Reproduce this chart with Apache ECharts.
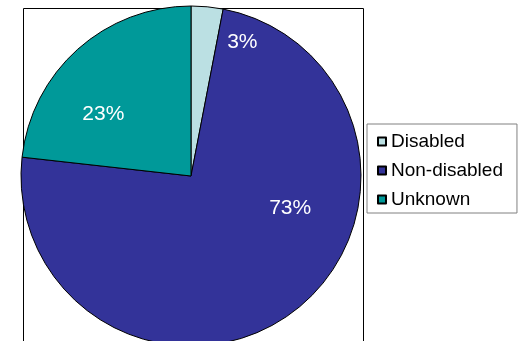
<!DOCTYPE html>
<html>
<head>
<meta charset="utf-8">
<script src="https://cdn.jsdelivr.net/npm/echarts@6/dist/echarts.min.js"></script>
<style>
  html, body { margin: 0; padding: 0; background: #ffffff; }
  #chart { width: 525px; height: 341px; }
</style>
</head>
<body>
<div id="chart"></div>
<script>
// Share of records by disability status (percent)
const categories = ['Disabled', 'Non-disabled', 'Unknown'];
const values = [3, 73, 23];
const colors = ['#BBE0E3', '#333399', '#009999'];

// Nudges that move each percentage label off its default inside position
const labelShift = [[43, -46], [47, -39], [-29, 4]];

const FONT = '"Liberation Sans", Arial, sans-serif';

const chart = echarts.init(document.getElementById('chart'), null, { renderer: 'canvas' });

chart.setOption({
  animation: false,
  backgroundColor: '#ffffff',
  textStyle: { fontFamily: FONT },
  graphic: [{
    type: 'rect',
    left: 21,
    top: 6,
    shape: { width: 340, height: 340 },
    style: { fill: 'none', stroke: '#000000', lineWidth: 1 },
    z: 0
  }],
  legend: {
    orient: 'vertical',
    left: 367,
    top: 124,
    data: categories,
    icon: 'rect',
    itemWidth: 8,
    itemHeight: 8,
    itemGap: 10,
    padding: [8, 14, 4, 10],
    borderColor: '#808080',
    borderWidth: 1,
    backgroundColor: '#ffffff',
    textStyle: { fontFamily: FONT, fontSize: 19, lineHeight: 19, color: '#000000' }
  },
  series: [{
    type: 'pie',
    center: [191, 176],
    radius: 170,
    startAngle: 90,
    clockwise: true,
    avoidLabelOverlap: false,
    itemStyle: { borderColor: '#000000', borderWidth: 1 },
    label: {
      show: true,
      position: 'inside',
      formatter: p => p.value + '%',
      color: '#ffffff',
      fontFamily: FONT,
      fontSize: 21
    },
    labelLine: { show: false },
    emphasis: { disabled: true },
    labelLayout: p => ({ dx: labelShift[p.dataIndex][0], dy: labelShift[p.dataIndex][1] }),
    data: categories.map((name, i) => ({
      name: name,
      value: values[i],
      itemStyle: { color: colors[i] }
    })),
    z: 2
  }]
});
</script>
</body>
</html>
